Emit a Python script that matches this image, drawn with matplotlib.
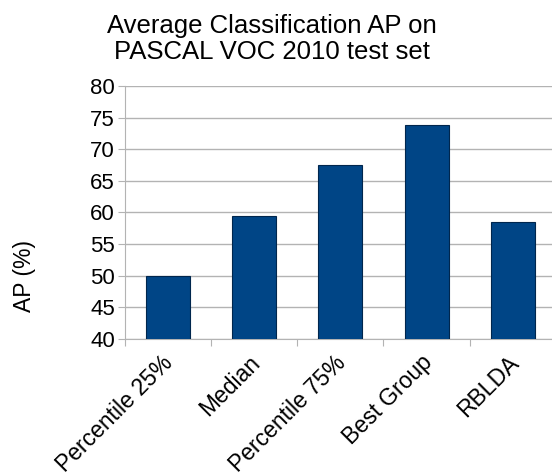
import matplotlib
matplotlib.use("Agg")
import matplotlib.pyplot as plt
import matplotlib.transforms as mtransforms

categories = ["Percentile 25%", "Median", "Percentile 75%", "Best Group", "RBLDA"]
ap_values = [50.0, 59.5, 67.5, 73.8, 58.4]

plt.rcParams['font.family'] = ['Liberation Sans', 'DejaVu Sans']

fig = plt.figure(figsize=(5.52, 4.74), dpi=100)
ax = fig.add_axes([124.5 / 552, 135.3 / 474, 431.5 / 552, 252.7 / 474])

x = range(len(categories))
ax.bar(x, ap_values, width=0.51, color='#004586', edgecolor='#00264d', linewidth=0.8, zorder=3)

ax.set_ylim(40, 80)
ax.set_xlim(-0.5, len(categories) - 0.5)
ax.set_yticks(range(40, 81, 5))
ax.yaxis.grid(True, color='#b3b3b3', linewidth=1, zorder=0)

ax.set_xticks([i - 0.5 for i in x])
ax.set_xticklabels([])
ax.set_xticks(list(x), minor=True)
ax.set_xticklabels(categories, minor=True, rotation=45, ha='right', va='top',
                   rotation_mode='anchor', fontsize=16.5)
ax.tick_params(axis='x', which='minor', length=0, pad=9)
ax.tick_params(axis='x', which='major', length=5, color='#b3b3b3')
ax.tick_params(axis='y', length=5, color='#b3b3b3', labelsize=16, pad=2)

# nudge the rotated labels a bit to the left
shift = mtransforms.ScaledTranslation(-6 / 100, 0, fig.dpi_scale_trans)
for lab in ax.xaxis.get_minorticklabels():
    lab.set_transform(lab.get_transform() + shift)

for side in ['top', 'right']:
    ax.spines[side].set_visible(False)
for side in ['left', 'bottom']:
    ax.spines[side].set_color('#b3b3b3')

fig.text(272 / 552, 1 - 39 / 474, "Average Classification AP on\nPASCAL VOC 2010 test set",
         ha='center', va='center', fontsize=18.5, linespacing=1.1)
fig.text(24 / 552, 1 - 276 / 474, "AP (%)", rotation=90, ha='center', va='center', fontsize=16.5)

fig.savefig("out.png", dpi=100)
